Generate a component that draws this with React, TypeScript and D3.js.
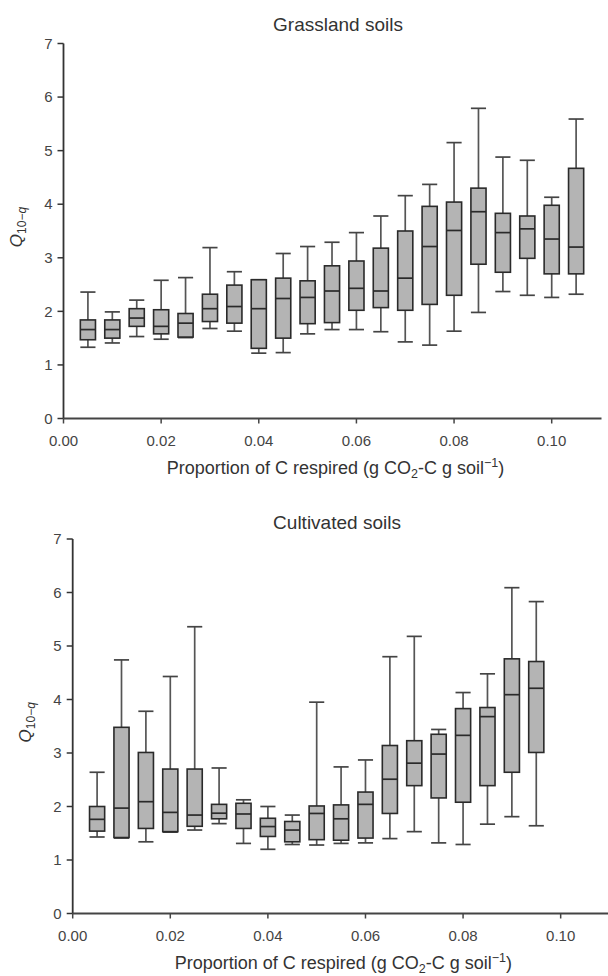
import React from 'react';
import * as d3 from 'd3';

// tick values shared by both panels
const xTicks = [0, 0.02, 0.04, 0.06, 0.08, 0.1];
const yTicks = [0, 1, 2, 3, 4, 5, 6, 7];

// Grassland soils: box positions and five-number summaries
const grassX = [0.005, 0.01, 0.015, 0.02, 0.025, 0.03, 0.035, 0.04, 0.045, 0.05, 0.055,
  0.06, 0.065, 0.07, 0.075, 0.08, 0.085, 0.09, 0.095, 0.1, 0.105];
const grassLo = [1.33, 1.41, 1.53, 1.48, 1.51, 1.68, 1.63, 1.22, 1.23, 1.58, 1.66,
  1.66, 1.62, 1.43, 1.37, 1.63, 1.98, 2.37, 2.3, 2.26, 2.32];
const grassQ1 = [1.47, 1.5, 1.72, 1.58, 1.52, 1.81, 1.78, 1.31, 1.5, 1.77, 1.79,
  2.02, 2.07, 2.02, 2.13, 2.3, 2.88, 2.73, 2.99, 2.7, 2.7];
const grassMed = [1.66, 1.66, 1.875, 1.72, 1.78, 2.05, 2.09, 2.05, 2.24, 2.26, 2.38,
  2.43, 2.38, 2.62, 3.21, 3.51, 3.86, 3.47, 3.54, 3.35, 3.2];
const grassQ3 = [1.84, 1.84, 2.05, 2.03, 1.96, 2.32, 2.49, 2.59, 2.62, 2.57, 2.85,
  2.94, 3.18, 3.5, 3.96, 4.04, 4.3, 3.83, 3.78, 3.98, 4.67];
const grassHi = [2.36, 1.99, 2.21, 2.58, 2.63, 3.19, 2.74, 2.59, 3.08, 3.21, 3.29,
  3.47, 3.78, 4.16, 4.37, 5.15, 5.79, 4.88, 4.82, 4.13, 5.59];

// Cultivated soils
const cultX = [0.005, 0.01, 0.015, 0.02, 0.025, 0.03, 0.035, 0.04, 0.045, 0.05,
  0.055, 0.06, 0.065, 0.07, 0.075, 0.08, 0.085, 0.09, 0.095];
const cultLo = [1.43, 1.41, 1.34, 1.52, 1.56, 1.68, 1.31, 1.2, 1.29, 1.28,
  1.31, 1.32, 1.4, 1.53, 1.32, 1.29, 1.67, 1.81, 1.64];
const cultQ1 = [1.54, 1.42, 1.59, 1.53, 1.63, 1.77, 1.59, 1.44, 1.34, 1.38,
  1.37, 1.41, 1.87, 2.39, 2.16, 2.08, 2.39, 2.64, 3.01];
const cultMed = [1.76, 1.97, 2.09, 1.89, 1.84, 1.875, 1.86, 1.625, 1.56, 1.87,
  1.77, 2.04, 2.51, 2.81, 2.98, 3.33, 3.68, 4.09, 4.21];
const cultQ3 = [2.0, 3.48, 3.01, 2.7, 2.7, 2.04, 2.06, 1.78, 1.72, 2.01,
  2.03, 2.27, 3.14, 3.23, 3.35, 3.83, 3.85, 4.76, 4.71];
const cultHi = [2.64, 4.74, 3.78, 4.43, 5.36, 2.72, 2.125, 2.0, 1.84, 3.95,
  2.74, 2.87, 4.8, 5.18, 3.44, 4.13, 4.48, 6.09, 5.83];

const FONT = '"Liberation Sans", Arial, Helvetica, sans-serif';

const BoxPanel = ({ title, xs, lo, q1, med, q3, hi, frame }) => {
  const { left, right, top, bottom, xMax, titleX, titleY } = frame;
  const x = d3.scaleLinear().domain([0, xMax]).range([left, right]);
  const y = d3.scaleLinear().domain([0, 7]).range([bottom, top]);
  const bw = (x(0.005) - x(0)) * 0.62;
  const fmt = d3.format('.2f');
  const midY = (top + bottom) / 2 - 4;

  return (
    <g fontFamily={FONT}>
      <text x={titleX} y={titleY} textAnchor="middle" fontSize={19} fill="#333">{title}</text>

      {/* boxes */}
      {xs.map((d, i) => {
        const cx = x(d);
        return (
          <g key={i}>
            <line x1={cx} x2={cx} y1={y(hi[i])} y2={y(q3[i])} stroke="#555" strokeWidth={1.7} />
            <line x1={cx} x2={cx} y1={y(q1[i])} y2={y(lo[i])} stroke="#555" strokeWidth={1.7} />
            <line x1={cx - bw / 2} x2={cx + bw / 2} y1={y(hi[i])} y2={y(hi[i])} stroke="#444" strokeWidth={1.7} />
            <line x1={cx - bw / 2} x2={cx + bw / 2} y1={y(lo[i])} y2={y(lo[i])} stroke="#444" strokeWidth={1.7} />
            <rect x={cx - bw / 2} y={y(q3[i])} width={bw} height={y(q1[i]) - y(q3[i])}
              fill="#b4b4b4" stroke="#2a2a2a" strokeWidth={1.6} />
            <line x1={cx - bw / 2} x2={cx + bw / 2} y1={y(med[i])} y2={y(med[i])} stroke="#2a2a2a" strokeWidth={1.7} />
          </g>
        );
      })}

      {/* y axis */}
      <line x1={left} x2={left} y1={y(0)} y2={y(7)} stroke="#333" strokeWidth={1.8} />
      {yTicks.map(t => (
        <g key={t}>
          <line x1={left - 6} x2={left} y1={y(t)} y2={y(t)} stroke="#333" strokeWidth={1.5} />
          <text x={left - 11} y={y(t)} dy="0.35em" textAnchor="end" fontSize={15} fill="#444">{t}</text>
        </g>
      ))}

      {/* x axis */}
      <line x1={left} x2={right} y1={bottom} y2={bottom} stroke="#444" strokeWidth={2} />
      {xTicks.map(t => (
        <g key={t}>
          <line x1={x(t)} x2={x(t)} y1={bottom} y2={bottom + 5} stroke="#444" strokeWidth={1.5} />
          <text x={x(t)} y={bottom + 27} textAnchor="middle" fontSize={15} fill="#444">{fmt(t)}</text>
        </g>
      ))}

      {/* axis titles */}
      <text x={(left + right) / 2 + 3} y={bottom + 55} textAnchor="middle" fontSize={18} fill="#333">
        Proportion of C respired (g CO<tspan fontSize={12.5} dy={4}>2</tspan>
        <tspan dy={-4}>-C g soil</tspan>
        <tspan fontSize={12.5} dy={-7}>−1</tspan>
        <tspan dy={7}>)</tspan>
      </text>
      <text transform={`translate(${left - 42},${midY}) rotate(-90)`} textAnchor="middle" fontSize={17} fill="#333">
        <tspan fontStyle="italic">Q</tspan>
        <tspan fontSize={12} dy={4}>10−</tspan>
        <tspan fontSize={12} fontStyle="italic">q</tspan>
      </text>
    </g>
  );
};

export default function App() {
  return (
    <div style={{ position: 'absolute', left: 0, top: 0 }}>
      <svg width={608} height={976} style={{ display: 'block', background: '#fff' }}>
        <BoxPanel
          title="Grassland soils"
          xs={grassX} lo={grassLo} q1={grassQ1} med={grassMed} q3={grassQ3} hi={grassHi}
          frame={{ left: 63.5, right: 601.5, top: 43.5, bottom: 418.5, xMax: 0.1102, titleX: 338, titleY: 31 }}
        />
        <BoxPanel
          title="Cultivated soils"
          xs={cultX} lo={cultLo} q1={cultQ1} med={cultMed} q3={cultQ3} hi={cultHi}
          frame={{ left: 72.7, right: 608, top: 539, bottom: 913.5, xMax: 0.1097, titleX: 337, titleY: 529 }}
        />
      </svg>
    </div>
  );
}
